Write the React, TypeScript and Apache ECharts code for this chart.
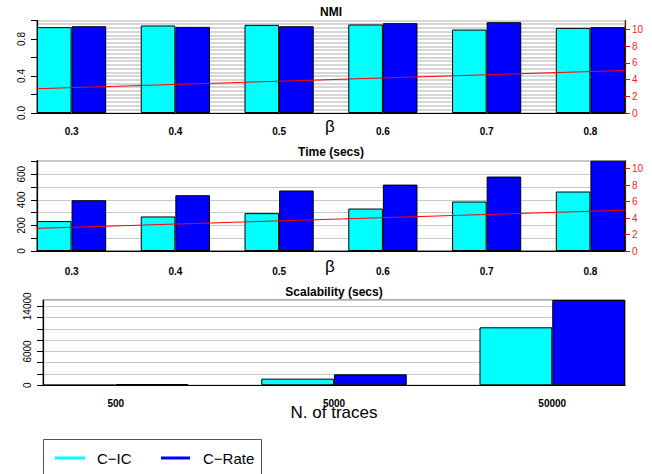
import React, { useEffect, useRef } from "react";
import * as echarts from "echarts";

// ---- data ----
const betas = ["0.3", "0.4", "0.5", "0.6", "0.7", "0.8"];
const nmiCIC = [0.928, 0.946, 0.953, 0.957, 0.902, 0.92];
const nmiCRate = [0.938, 0.931, 0.938, 0.971, 0.982, 0.928];
const nmiTrend = [2.9, 5.08];
const timeCIC = [234, 270, 296, 332, 387, 465];
const timeCRate = [397, 436, 473, 519, 582, 706];
const timeTrend = [2.75, 4.95];
const traces = ["500", "5000", "50000"];
const scalCIC = [60, 1180, 10280];
const scalCRate = [220, 1950, 15120];

const nmiTicks = [0, 0.2, 0.4, 0.6, 0.8, 1.0];
const nmiLabels = [0, 0.4, 0.8];
const timeTicks = [0, 100, 200, 300, 400, 500, 600, 700];
const timeLabels = [0, 200, 400, 600];
const scalTicks = [0, 2000, 4000, 6000, 8000, 10000, 12000, 14000];
const scalLabels = [0, 6000, 14000];
const rightTicks = [0, 2, 4, 6, 8, 10];

const seriesNames = ["C\u2212IC", "C\u2212Rate"];
const colors = ["#00ffff", "#0000ff"];

const FONT = "'Liberation Sans', Arial, Helvetica, sans-serif";
const CHART_W = 720;

export default function App() {
  const ref = useRef<HTMLDivElement>(null);
  useEffect(() => {
    if (!ref.current) return;
    const chart = echarts.init(ref.current, undefined, { renderer: "svg" });

    const p = [
      { left: 37, top: 20.5, width: 588, height: 92.5 },
      { left: 37, top: 160.7, width: 588, height: 90.3 },
      { left: 43, top: 300, width: 582, height: 85.3 },
    ];
    const u12 = 588 / 17;
    const u3 = 582 / 8;

    const grids: any[] = [
      { ...p[0], show: true, borderColor: "#444", borderWidth: 1, backgroundColor: "#fff" },
      { left: p[0].left - u12 / 2, top: p[0].top, width: p[0].width + u12, height: p[0].height },
      { ...p[1], show: true, borderColor: "#222", borderWidth: 1, backgroundColor: "#fff" },
      { left: p[1].left - u12 / 2, top: p[1].top, width: p[1].width + u12, height: p[1].height },
      { ...p[2], show: true, borderColor: "#555", borderWidth: 1, backgroundColor: "#fff" },
      { left: p[2].left - u3 / 2, top: p[2].top, width: p[2].width + u3, height: p[2].height },
    ];

    const hiddenValueX = (gi: number) => ({
      type: "value",
      gridIndex: gi,
      min: 0,
      max: 1,
      axisLine: { show: true, onZero: false, lineStyle: { color: "#000", width: 1.2 } },
      axisTick: { show: false },
      axisLabel: { show: false },
      splitLine: { show: false },
    });
    const catX = (gi: number, data: string[], margin: number) => ({
      type: "category",
      gridIndex: gi,
      data,
      axisLine: { show: false },
      axisTick: { show: false },
      axisLabel: { fontSize: 10, fontWeight: "bold", color: "#000", margin, fontFamily: FONT },
      splitLine: { show: false },
    });

    const leftAxis = (gi: number, max: number, ticks: number[], labels: number[], fmt: (v: number) => string) => ({
      type: "value",
      gridIndex: gi,
      position: "left",
      min: 0,
      max,
      axisLine: { show: true, lineStyle: { color: "#000", width: 1.2 } },
      axisTick: { show: true, length: 6, customValues: ticks, lineStyle: { color: "#000" } },
      axisLabel: {
        customValues: labels,
        rotate: 90,
        fontSize: 10,
        color: "#000",
        margin: 11,
        fontFamily: FONT,
        formatter: (v: number) => fmt(v),
      },
      splitLine: { show: false },
    });
    const rightAxis = (gi: number, max: number) => ({
      type: "value",
      gridIndex: gi,
      position: "right",
      min: 0,
      max,
      axisLine: { show: true, lineStyle: { color: "#5b0d0d", width: 1.2 } },
      axisTick: { show: true, length: 5, customValues: rightTicks, lineStyle: { color: "#ff0000" } },
      axisLabel: { customValues: rightTicks, fontSize: 10, color: "#ff2020", margin: 7, fontFamily: FONT },
      splitLine: { show: false },
    });
    const gridAxis = (gi: number, max: number, interval: number, color: string, width: number) => ({
      type: "value",
      gridIndex: gi,
      min: 0,
      max,
      interval,
      axisLine: { show: false },
      axisTick: { show: false },
      axisLabel: { show: false },
      splitLine: { show: true, lineStyle: { color, width } },
    });
    const hiddenY = (gi: number, max: number) => ({ type: "value", gridIndex: gi, min: 0, max, show: false });

    const xAxis = [
      hiddenValueX(0),
      catX(1, betas, 13),
      hiddenValueX(2),
      catX(3, betas, 15),
      hiddenValueX(4),
      catX(5, traces, 13),
    ];
    const yAxis = [
      leftAxis(0, 1.0, nmiTicks, nmiLabels, (v) => v.toFixed(1)), // 0
      rightAxis(0, 11.05), // 1
      gridAxis(0, 1.0, 0.04, "#d6d6d6", 1.8), // 2
      hiddenY(1, 1.0), // 3
      leftAxis(2, 706, timeTicks, timeLabels, (v) => String(v)), // 4
      rightAxis(2, 10.96), // 5
      gridAxis(2, 706, 100, "#c8c8c8", 1.2), // 6
      hiddenY(3, 706), // 7
      leftAxis(4, 15120, scalTicks, scalLabels, (v) => String(v)), // 8
      gridAxis(4, 15120, 2000, "#c8c8c8", 1.2), // 9
      hiddenY(5, 15120), // 10
    ];

    const bar = (name: string, data: number[], xi: number, yi: number, ci: number) => ({
      type: "bar",
      name,
      xAxisIndex: xi,
      yAxisIndex: yi,
      data,
      barGap: "0%",
      barCategoryGap: "33.333%",
      itemStyle: { color: colors[ci], borderColor: "#000", borderWidth: 1 },
      z: 2,
    });
    const trend = (vals: number[], xi: number, yi: number) => ({
      type: "line",
      xAxisIndex: xi,
      yAxisIndex: yi,
      data: [
        [0, vals[0]],
        [1, vals[1]],
      ],
      symbol: "none",
      lineStyle: { color: "#ff0000", width: 1 },
      z: 5,
    });

    const series = [
      bar(seriesNames[0], nmiCIC, 1, 3, 0),
      bar(seriesNames[1], nmiCRate, 1, 3, 1),
      trend(nmiTrend, 0, 1),
      bar(seriesNames[0], timeCIC, 3, 7, 0),
      bar(seriesNames[1], timeCRate, 3, 7, 1),
      trend(timeTrend, 2, 5),
      bar(seriesNames[0], scalCIC, 5, 10, 0),
      bar(seriesNames[1], scalCRate, 5, 10, 1),
    ];

    const title = (text: string, x: number, y: number) => ({
      type: "text",
      x,
      y,
      style: { text, fontSize: 12, fontWeight: "bold", fill: "#000", align: "center", verticalAlign: "middle", fontFamily: FONT },
    });
    const plain = (text: string, x: number, y: number, size: number, align = "center") => ({
      type: "text",
      x,
      y,
      style: { text, fontSize: size, fill: "#000", align, verticalAlign: "middle", fontFamily: FONT },
    });

    const graphic = [
      title("NMI", 331, 11.5),
      title("Time (secs)", 331, 151.5),
      title("Scalability (secs)", 334, 291.5),
      plain("\u03b2", 330, 126, 17),
      plain("\u03b2", 330, 266, 17),
      plain("N. of traces", 334, 412, 17),
      {
        type: "rect",
        shape: { x: 43.5, y: 439.5, width: 218, height: 60 },
        style: { fill: "#fff", stroke: "#555", lineWidth: 1 },
      },
      { type: "line", shape: { x1: 55, y1: 458, x2: 85, y2: 458 }, style: { stroke: colors[0], lineWidth: 3 } },
      plain(seriesNames[0], 97, 458, 15, "left"),
      { type: "line", shape: { x1: 161, y1: 458, x2: 190, y2: 458 }, style: { stroke: colors[1], lineWidth: 3 } },
      plain(seriesNames[1], 203, 458, 15, "left"),
    ];

    chart.setOption({
      animation: false,
      textStyle: { fontFamily: FONT },
      grid: grids,
      xAxis,
      yAxis,
      series,
      graphic,
    });
    return () => chart.dispose();
  }, []);
  return (
    <div style={{ position: "absolute", left: 0, top: 0, width: 652, height: 474, overflow: "hidden" }}>
      <div ref={ref} style={{ width: CHART_W, height: 474 }} />
    </div>
  );
}
